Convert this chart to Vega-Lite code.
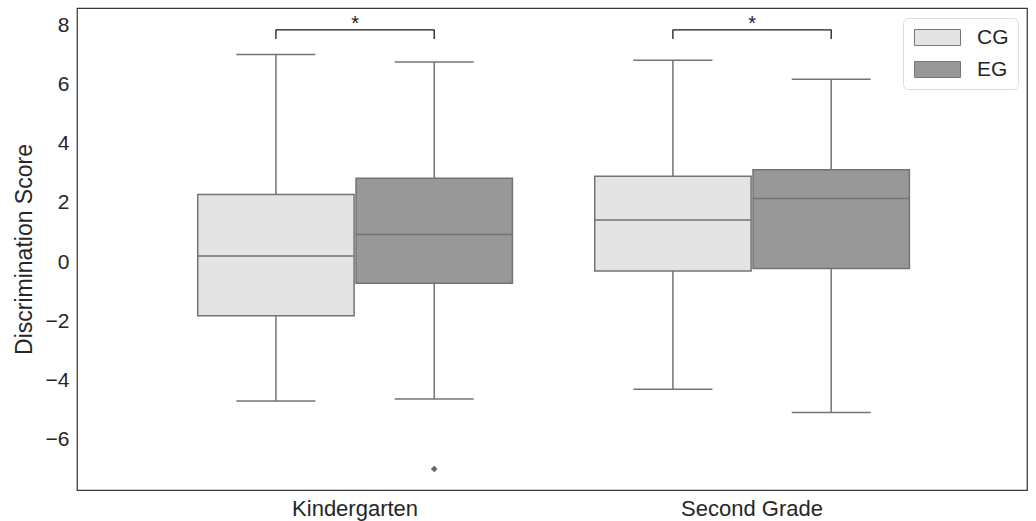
{
  "$schema": "https://vega.github.io/schema/vega-lite/v6.json",
  "width": 950,
  "height": 482,
  "autosize": "none",
  "padding": {"left": 77, "top": 8, "right": 9, "bottom": 31},
  "background": "white",
  "config": {
    "view": {"stroke": "#3a3a3a", "strokeWidth": 1.25},
    "font": "Liberation Sans"
  },
  "datasets": {
    "boxes": [
      {"grade": "Kindergarten", "group": "CG", "low": -4.70, "q1": -1.82, "median": 0.20, "q3": 2.28, "high": 7.02},
      {"grade": "Kindergarten", "group": "EG", "low": -4.63, "q1": -0.72, "median": 0.93, "q3": 2.83, "high": 6.76},
      {"grade": "Second Grade", "group": "CG", "low": -4.30, "q1": -0.30, "median": 1.42, "q3": 2.90, "high": 6.82},
      {"grade": "Second Grade", "group": "EG", "low": -5.09, "q1": -0.22, "median": 2.15, "q3": 3.12, "high": 6.18}
    ],
    "outliers": [
      {"grade": "Kindergarten", "group": "EG", "value": -7.0}
    ],
    "brackets": [
      {"grade": "Kindergarten", "top": 7.85, "star": 8.15, "label": "*"},
      {"grade": "Second Grade", "top": 7.85, "star": 8.15, "label": "*"}
    ],
    "legs": [
      {"grade": "Kindergarten", "group": "CG", "top": 7.85, "bottom": 7.54},
      {"grade": "Kindergarten", "group": "EG", "top": 7.85, "bottom": 7.54},
      {"grade": "Second Grade", "group": "CG", "top": 7.85, "bottom": 7.54},
      {"grade": "Second Grade", "group": "EG", "top": 7.85, "bottom": 7.54}
    ]
  },
  "encoding": {
    "x": {
      "field": "grade",
      "type": "nominal",
      "title": null,
      "scale": {"domain": ["Kindergarten", "Second Grade"], "paddingInner": 0, "paddingOuter": 0.1965, "align": 0.51},
      "axis": {
        "ticks": false,
        "domain": false,
        "grid": false,
        "labelAngle": 0,
        "labelFontSize": 22,
        "labelColor": "#262626",
        "labelPadding": 8
      }
    }
  },
  "layer": [
    {
      "data": {"name": "boxes"},
      "mark": {"type": "rule", "color": "#737373", "strokeWidth": 1.5},
      "encoding": {
        "xOffset": {"field": "group", "type": "nominal", "scale": {"domain": ["CG", "EG"], "paddingInner": 0.012, "paddingOuter": 0.26}},
        "y": {
          "field": "low",
          "type": "quantitative",
          "title": "Discrimination Score",
          "scale": {"domain": [-7.71, 8.59], "nice": false, "zero": false},
          "axis": {
            "values": [-6, -4, -2, 0, 2, 4, 6, 8],
            "ticks": false,
            "domain": false,
            "grid": false,
            "labelFontSize": 21,
            "labelColor": "#262626",
            "labelPadding": 8,
            "titleFontSize": 23,
            "titleFontWeight": "normal",
            "titleColor": "#262626",
            "titlePadding": 9
          }
        },
        "y2": {"field": "high"}
      }
    },
    {
      "data": {"name": "boxes"},
      "mark": {"type": "bar", "stroke": "#737373", "strokeWidth": 1.5, "opacity": 1},
      "encoding": {
        "xOffset": {"field": "group", "type": "nominal", "scale": {"domain": ["CG", "EG"], "paddingInner": 0.012, "paddingOuter": 0.26}},
        "y": {"field": "q1", "type": "quantitative", "title": "Discrimination Score"},
        "y2": {"field": "q3"},
        "color": {
          "field": "group",
          "type": "nominal",
          "scale": {"domain": ["CG", "EG"], "range": ["#e4e4e4", "#989898"]},
          "legend": {
            "title": null,
            "orient": "none",
            "legendX": 826,
            "legendY": 10,
            "labelFontSize": 21,
            "labelColor": "#262626",
            "symbolType": "M-1,-1H4.75V1H-1Z",
            "symbolSize": 256,
            "symbolStrokeColor": "#787878",
            "symbolStrokeWidth": 1,
            "symbolOpacity": 1,
            "strokeColor": "#dddddd",
            "fillColor": "white",
            "cornerRadius": 5,
            "padding": 9,
            "labelOffset": 44,
            "rowPadding": 10
          }
        }
      }
    },
    {
      "data": {"name": "boxes"},
      "mark": {"type": "tick", "orient": "horizontal", "color": "#737373", "size": 157, "thickness": 1.5, "opacity": 1},
      "encoding": {
        "xOffset": {"field": "group", "type": "nominal", "scale": {"domain": ["CG", "EG"], "paddingInner": 0.012, "paddingOuter": 0.26}},
        "y": {"field": "median", "type": "quantitative", "title": "Discrimination Score"}
      }
    },
    {
      "data": {"name": "boxes"},
      "mark": {"type": "tick", "orient": "horizontal", "color": "#737373", "size": 79, "thickness": 1.5, "opacity": 1},
      "encoding": {
        "xOffset": {"field": "group", "type": "nominal", "scale": {"domain": ["CG", "EG"], "paddingInner": 0.012, "paddingOuter": 0.26}},
        "y": {"field": "low", "type": "quantitative", "title": "Discrimination Score"}
      }
    },
    {
      "data": {"name": "boxes"},
      "mark": {"type": "tick", "orient": "horizontal", "color": "#737373", "size": 79, "thickness": 1.5, "opacity": 1},
      "encoding": {
        "xOffset": {"field": "group", "type": "nominal", "scale": {"domain": ["CG", "EG"], "paddingInner": 0.012, "paddingOuter": 0.26}},
        "y": {"field": "high", "type": "quantitative", "title": "Discrimination Score"}
      }
    },
    {
      "data": {"name": "outliers"},
      "mark": {"type": "point", "shape": "diamond", "filled": true, "size": 45, "color": "#666666", "opacity": 1},
      "encoding": {
        "xOffset": {"field": "group", "type": "nominal", "scale": {"domain": ["CG", "EG"], "paddingInner": 0.012, "paddingOuter": 0.26}},
        "y": {"field": "value", "type": "quantitative", "title": "Discrimination Score"}
      }
    },
    {
      "data": {"name": "brackets"},
      "mark": {"type": "tick", "orient": "horizontal", "color": "#1a1a1a", "size": 159, "thickness": 1.3, "opacity": 1},
      "encoding": {
        "y": {"field": "top", "type": "quantitative", "title": "Discrimination Score"}
      }
    },
    {
      "data": {"name": "legs"},
      "mark": {"type": "rule", "color": "#1a1a1a", "strokeWidth": 1.3},
      "encoding": {
        "xOffset": {"field": "group", "type": "nominal", "scale": {"domain": ["CG", "EG"], "paddingInner": 0.012, "paddingOuter": 0.26}},
        "y": {"field": "bottom", "type": "quantitative", "title": "Discrimination Score"},
        "y2": {"field": "top"}
      }
    },
    {
      "data": {"name": "brackets"},
      "mark": {"type": "text", "fontSize": 20, "color": "#1a1a1a", "baseline": "middle", "dy": 3},
      "encoding": {
        "y": {"field": "star", "type": "quantitative", "title": "Discrimination Score"},
        "text": {"field": "label"}
      }
    }
  ]
}
